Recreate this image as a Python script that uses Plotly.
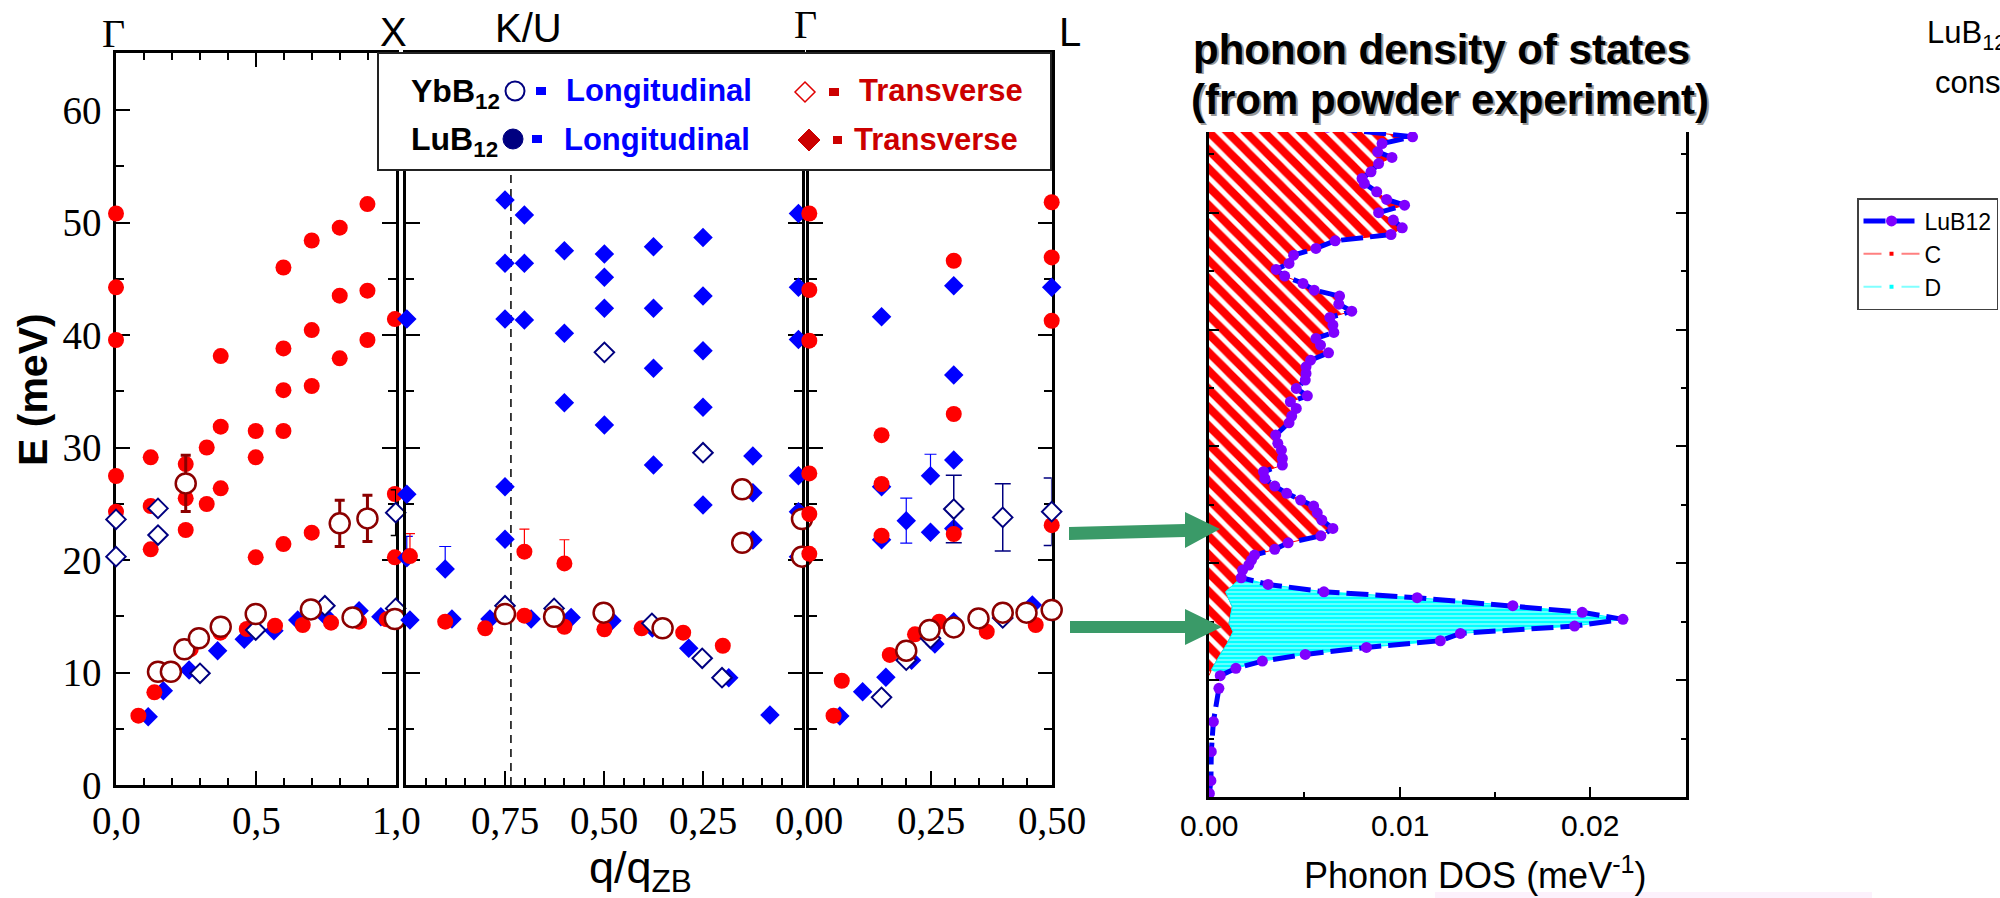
import plotly.graph_objects as go

W, H = 2000, 898

# ================= DISPERSION DATA (q/q_ZB, E in meV) =================
# Panel 1 : Gamma -> X
p1_red_q = [0, 0, 0, 0, 0, 0.374, 0.598, 0.699, 0.799, 0.898, 0.799, 0.898, 0.598, 0.699, 0.799, 0.898,
            0.996, 0.598, 0.699, 0.374, 0.499, 0.598, 0.324, 0.124, 0.249, 0.499, 0.374, 0.124, 0.249,
            0.324, 0.249, 0.124, 0.499, 0.598, 0.699, 0.996, 0.996,
            0.08, 0.137, 0.267, 0.373, 0.467, 0.568, 0.667, 0.768, 0.868, 0.967]
p1_red_E = [50.8, 44.24, 39.56, 27.47, 24.3, 38.13, 46.0, 48.4, 49.54, 51.64, 43.5, 43.94, 38.81, 40.44, 37.93, 39.56,
            41.42, 35.1, 35.47, 31.85, 31.47, 31.47, 30.0, 29.13, 28.53, 29.13, 26.37, 24.8, 25.48,
            24.98, 22.67, 20.95, 20.24, 21.42, 22.43, 25.87, 20.24,
            6.16, 8.24, 12.09, 13.54, 13.87, 14.16, 14.22, 14.43, 14.52, 14.73]
p1_blue_q = [0.115, 0.169, 0.261, 0.363, 0.458, 0.564, 0.649, 0.744, 0.868, 0.946]
p1_blue_E = [6.07, 8.38, 10.22, 11.94, 12.95, 13.72, 14.67, 15.11, 15.5, 14.96]
p1_odia_q = [0, 0, 0.15, 0.15, 0.3, 0.499, 0.746, 0.999, 0.999]
p1_odia_E = [23.61, 20.3, 24.59, 22.22, 9.93, 13.78, 15.94, 24.21, 15.7]
p1_ocirc_q = [0.249, 0.799, 0.898, 0.15, 0.196, 0.244, 0.296, 0.374, 0.499, 0.696, 0.845, 0.996]
p1_ocirc_E = [26.81, 23.26, 23.7, 10.07, 10.07, 12.06, 13.04, 14.07, 15.2, 15.61, 14.9, 14.76]
# error bars panel 1
p1_err_dr_q = [0.249, 0.799, 0.898]
p1_err_dr_E = [26.81, 23.26, 23.7]
p1_err_dr_v = [2.5, 2.05, 2.05]
p1_err_k_q = [0.999]
p1_err_k_E = [24.21]
p1_err_k_v = [2.03]

# Panel 2 : X -> K/U -> Gamma  (reversed axis)
p2_blue_q = [0.998, 0.75, 0.701, 0.75, 0.701, 0.75, 0.701, 0.600, 0.600, 0.600, 0.499, 0.499, 0.499, 0.499,
             0.375, 0.375, 0.375, 0.25, 0.25, 0.25, 0.25, 0.124, 0.375, 0.25, 0.124, 0.124, 0.75, 0.75,
             0.901, 0.998, 0.998,
             0.99, 0.884, 0.788, 0.684, 0.583, 0.48, 0.378, 0.286, 0.185, 0.081,
             0.009, 0.009, 0.009, 0.009, 0.009, 0.009]
p2_blue_E = [41.42, 52.0, 50.67, 46.37, 46.37, 41.42, 41.33, 47.5, 40.15, 33.98, 47.2, 45.13, 42.37, 32.0,
             47.85, 42.37, 37.04, 48.68, 43.47, 38.6, 33.57, 29.24, 28.44, 24.89, 25.98, 21.78, 26.52, 21.84,
             19.2, 25.84, 20.2,
             14.67, 14.76, 14.76, 14.76, 14.9, 14.61, 13.95, 12.15, 9.54, 6.22,
             50.8, 44.24, 39.6, 27.5, 24.3, 20.3]
p2_red_q = [0.99, 0.901, 0.8, 0.701, 0.6, 0.499, 0.405, 0.3, 0.2, 0.701, 0.6]
p2_red_E = [20.35, 14.52, 13.93, 15.05, 14.07, 13.84, 13.93, 13.54, 12.38, 20.74, 19.7]
p2_odia_q = [0.75, 0.626, 0.379, 0.252, 0.202, 0.499, 0.25]
p2_odia_E = [15.94, 15.7, 14.37, 11.26, 9.54, 38.46, 29.54]
p2_ocirc_q = [0.75, 0.626, 0.501, 0.352, 0.151, 0.151, 0.0, 0.0]
p2_ocirc_E = [15.2, 14.96, 15.32, 13.93, 26.28, 21.54, 23.64, 20.3]
p2_err_red_q = [0.99, 0.701, 0.6]
p2_err_red_E = [20.35, 20.74, 19.7]
p2_err_red_up = [2.0, 2.0, 2.1]
p2_err_blue_q = [0.901, 0.998]
p2_err_blue_E = [19.2, 20.2]
p2_err_blue_up = [2.0, 1.9]
q_K = 0.735   # K/U point marker line

# Panel 3 : Gamma -> L
p3_red_q = [0, 0, 0, 0, 0, 0, 0.298, 0.5, 0.5, 0.5, 0.298, 0.149, 0.149, 0.149, 0.298, 0.5,
            0.05, 0.067, 0.166, 0.218, 0.268, 0.366, 0.467]
p3_red_E = [50.8, 44.0, 39.5, 27.7, 24.09, 20.55, 46.6, 51.8, 46.9, 41.27, 32.98, 31.1, 26.76, 22.16, 22.31, 23.1,
            6.16, 9.27, 11.56, 13.39, 14.52, 13.63, 14.22]
p3_blue_q = [0.298, 0.149, 0.298, 0.5, 0.149, 0.149, 0.2, 0.25, 0.25, 0.298, 0.298,
             0.063, 0.11, 0.158, 0.211, 0.259, 0.298, 0.399, 0.46, 0.5]
p3_blue_E = [44.38, 41.63, 36.44, 44.24, 26.52, 21.8, 23.5, 27.5, 22.46, 28.89, 22.8,
             6.13, 8.3, 9.57, 11.1, 12.53, 14.52, 14.81, 16.0, 15.41]
p3_odia_q = [0.149, 0.2, 0.25, 0.399, 0.298, 0.399, 0.5]
p3_odia_E = [7.79, 11.1, 13.04, 14.85, 24.53, 23.79, 24.3]
p3_ocirc_q = [0.2, 0.248, 0.298, 0.349, 0.399, 0.448, 0.5]
p3_ocirc_E = [11.94, 13.78, 14.01, 14.81, 15.32, 15.32, 15.56]
p3_err_blue_q = [0.2, 0.25]
p3_err_blue_E = [23.5, 27.5]
p3_err_blue_up = [2.0, 1.9]
p3_err_blue_dn = [2.0, 0.0]
p3_err_navy_q = [0.298, 0.399, 0.5]
p3_err_navy_E = [24.53, 23.79, 24.3]
p3_err_navy_v = [3.0, 3.0, 3.0]

# tick labels
p1_tick_q = [0, 0.5, 1.0]
p1_tick_txt = ["0,0", "0,5", "1,0"]
p2_tick_q = [0.75, 0.5, 0.25]
p2_tick_txt = ["0,75", "0,50", "0,25"]
p3_tick_q = [0, 0.25, 0.5]
p3_tick_txt = ["0,00", "0,25", "0,50"]
E_tick = [0, 10, 20, 30, 40, 50, 60]
E_tick_txt = ["0", "10", "20", "30", "40", "50", "60"]
dos_tick_v = [0, 0.01, 0.02]
dos_tick_txt = ["0.00", "0.01", "0.02"]

# ================= PHONON DOS DATA =================
dos_E = [0.3, 1.4, 3.88, 6.44, 9.3, 10.38, 11.01, 11.63, 12.2, 12.8, 13.37, 14.0, 14.63, 15.2, 15.8,
         16.37, 17.05, 17.56, 18.19, 18.76, 19.42, 19.85, 20.27, 20.7, 21.19, 21.75, 22.35, 22.98, 23.7,
         24.32, 24.89, 25.41, 25.98, 26.6, 27.26, 27.83, 28.4, 28.97, 29.68, 30.26, 30.97, 32.02, 32.59,
         33.25, 33.82, 34.33, 34.96, 35.67, 36.24, 36.81, 37.38, 38.01, 38.67, 39.24, 39.75, 40.38, 41.03,
         41.57, 42.17, 42.86, 43.37, 43.94, 44.57, 45.14, 45.65, 46.36, 46.94, 47.59, 48.13, 48.7, 49.36,
         50.0, 50.64, 51.13, 51.78, 52.5, 52.92, 53.49, 54.2, 54.72, 55.2, 55.91, 56.49, 57.3]
dos_val = [0.00002, 0.0001, 0.00012, 0.00023, 0.00052, 0.00059, 0.00141, 0.0028, 0.00505, 0.00826,
           0.01214, 0.01319, 0.01918, 0.02172, 0.01958, 0.01594, 0.01092, 0.00603, 0.0031, 0.00169,
           0.00176, 0.00209, 0.00223, 0.00239, 0.00345, 0.00415, 0.00587, 0.0065, 0.00592, 0.00568,
           0.00549, 0.00481, 0.00408, 0.00345, 0.00293, 0.00286, 0.00385, 0.00385, 0.0038, 0.00361,
           0.0035, 0.0042, 0.00434, 0.00458, 0.00427, 0.00516, 0.00458, 0.00505, 0.00509, 0.00509,
           0.00533, 0.00627, 0.00585, 0.00561, 0.00655, 0.0065, 0.00634, 0.00749, 0.00681, 0.00685,
           0.00552, 0.00493, 0.00397, 0.00352, 0.0042, 0.00444, 0.00561, 0.00662, 0.00955, 0.01014,
           0.00967, 0.0089, 0.01026, 0.00932, 0.0088, 0.00815, 0.00803, 0.0085, 0.0089, 0.0096,
           0.00885, 0.00908, 0.01068, 0.0062]
c_bump_E = [10.4, 10.86, 12.0, 13.15, 14.14, 14.86, 16.28, 17.56]
c_bump_val = [0.0, 0.00012, 0.00052, 0.00096, 0.00126, 0.00105, 0.00122, 0.00087]

# ================= helpers =================
def px(x):
    return x / W


def py(y):
    return 1 - y / H


SERIF = "Liberation Serif, Times New Roman, serif"
SANS = "Liberation Sans, Arial, sans-serif"

fig = go.Figure()

STY = {
    "blue": dict(symbol="diamond", size=15, color="#0000ff", line=dict(width=0)),
    "red": dict(symbol="circle", size=16, color="#ff0000", line=dict(width=0)),
    "odia": dict(symbol="diamond", size=15, color="white", line=dict(color="#000080", width=2)),
    "ocirc": dict(symbol="circle", size=20, color="white", line=dict(color="#8b0000", width=2.5)),
}


def add_pts(q, E, kind, ax):
    fig.add_trace(go.Scatter(x=q, y=E, mode="markers", marker=STY[kind], xaxis="x" + ax, yaxis="y" + ax,
                             cliponaxis=False, showlegend=False, hoverinfo="skip"))


def add_err(q, E, up, dn, color, thick, width, ax):
    fig.add_trace(go.Scatter(x=q, y=E, mode="markers", marker=dict(size=1, color="rgba(0,0,0,0)"),
                             error_y=dict(type="data", symmetric=False, array=up, arrayminus=dn,
                                          color=color, thickness=thick, width=width),
                             xaxis="x" + ax, yaxis="y" + ax, cliponaxis=False, showlegend=False,
                             hoverinfo="skip"))


# panel 1
add_pts(p1_blue_q, p1_blue_E, "blue", "")
add_pts(p1_red_q, p1_red_E, "red", "")
add_err(p1_err_k_q, p1_err_k_E, p1_err_k_v, p1_err_k_v, "black", 1.5, 5, "")
add_pts(p1_odia_q, p1_odia_E, "odia", "")
add_err(p1_err_dr_q, p1_err_dr_E, p1_err_dr_v, p1_err_dr_v, "#8b0000", 3, 5, "")
add_pts(p1_ocirc_q, p1_ocirc_E, "ocirc", "")
# panel 2
add_err(p2_err_blue_q, p2_err_blue_E, p2_err_blue_up, [0] * len(p2_err_blue_q), "#0000ff", 1.2, 6, "2")
add_pts(p2_blue_q, p2_blue_E, "blue", "2")
add_err(p2_err_red_q, p2_err_red_E, p2_err_red_up, [0] * len(p2_err_red_q), "#ff0000", 1.2, 5, "2")
add_pts(p2_red_q, p2_red_E, "red", "2")
add_pts(p2_odia_q, p2_odia_E, "odia", "2")
add_pts(p2_ocirc_q, p2_ocirc_E, "ocirc", "2")
# panel 3
add_err(p3_err_blue_q, p3_err_blue_E, p3_err_blue_up, p3_err_blue_dn, "#0000ff", 1.2, 6, "3")
add_pts(p3_blue_q, p3_blue_E, "blue", "3")
add_err(p3_err_navy_q, p3_err_navy_E, p3_err_navy_v, p3_err_navy_v, "#000080", 1.5, 8, "3")
add_pts(p3_red_q, p3_red_E, "red", "3")
add_pts(p3_odia_q, p3_odia_E, "odia", "3")
add_pts(p3_ocirc_q, p3_ocirc_E, "ocirc", "3")

# ---- DOS panel fills ----
top_E = dos_E[-1]
lub_hi = [(e, v) for e, v in zip(dos_E, dos_val) if e >= 18.76]
lub_mid = [(e, v) for e, v in zip(dos_E, dos_val) if 10.38 <= e <= 18.76]
c_x = list(c_bump_val) + [v for e, v in lub_hi] + [0]
c_y = list(c_bump_E) + [e for e, v in lub_hi] + [top_E]
d_x = [v for e, v in lub_mid] + list(reversed(c_bump_val[1:]))
d_y = [e for e, v in lub_mid] + list(reversed(c_bump_E[1:]))

fig.add_trace(go.Scatter(x=c_x, y=c_y, mode="lines", fill="toself", line=dict(color="#ff0000", width=1),
                         fillcolor="white",
                         fillpattern=dict(shape="\\", fgcolor="#ff0000", bgcolor="white", fgopacity=1,
                                          size=13, solidity=0.62),
                         xaxis="x4", yaxis="y4", showlegend=False, hoverinfo="skip"))
fig.add_trace(go.Scatter(x=d_x, y=d_y, mode="lines", fill="toself", line=dict(color="#00ffff", width=1),
                         fillcolor="white",
                         fillpattern=dict(shape="-", fgcolor="#00ffff", bgcolor="white", fgopacity=1,
                                          size=4, solidity=0.8),
                         xaxis="x4", yaxis="y4", showlegend=False, hoverinfo="skip"))
fig.add_trace(go.Scatter(x=dos_val, y=dos_E, mode="lines+markers", name="LuB12",
                         line=dict(color="#0000ff", width=5, dash="22px,7px"),
                         marker=dict(color="#7f00ff", size=11),
                         xaxis="x4", yaxis="y4", showlegend=True, hoverinfo="skip"))
fig.add_trace(go.Scatter(x=[None], y=[None], mode="lines+markers", name="C",
                         line=dict(color="#ff8080", width=2, dash="18px,20px"),
                         marker=dict(symbol="square", size=4, color="#ff0000"),
                         xaxis="x4", yaxis="y4", showlegend=True))
fig.add_trace(go.Scatter(x=[None], y=[None], mode="lines+markers", name="D",
                         line=dict(color="#80ffff", width=2, dash="18px,20px"),
                         marker=dict(symbol="square", size=4, color="#00ffff"),
                         xaxis="x4", yaxis="y4", showlegend=True))

# ================= AXES =================
Y0, Y1 = py(785), py(53)
E_MAX = 65.07
tfont = dict(family=SERIF, size=39, color="black")
common_x = dict(showline=True, linecolor="black", linewidth=2.6, mirror="ticks", ticks="inside",
                ticklen=14, tickwidth=2.4, tickcolor="black", showgrid=False, zeroline=False,
                showticklabels=False, tickmode="array", layer="below traces")
common_y = dict(showline=True, linecolor="black", linewidth=2.6, mirror="ticks", ticks="inside",
                ticklen=14, tickwidth=2.4, tickcolor="black", showgrid=False, zeroline=False,
                range=[0, E_MAX], tickmode="array", tickvals=E_tick,
                minor=dict(ticks="inside", ticklen=8, tickwidth=2.4, tickcolor="black",
                           tickmode="array", tickvals=[5, 15, 25, 35, 45, 55], showgrid=False),
                layer="below traces", domain=[Y0, Y1])

fig.update_layout(
    width=W, height=H, margin=dict(l=0, r=0, t=0, b=0, autoexpand=False),
    paper_bgcolor="white", plot_bgcolor="white",
    xaxis=dict(common_x, domain=[px(116), px(396)], range=[0, 1], anchor="y",
               tickvals=[0, 0.5, 1.0],
               minor=dict(ticks="inside", ticklen=7, tickwidth=2.4, tickcolor="black", tickmode="array",
                          tickvals=[0.1, 0.2, 0.3, 0.4, 0.6, 0.7, 0.8, 0.9])),
    yaxis=dict(common_y, anchor="x", tickfont=tfont, ticklabelstandoff=4, ticktext=E_tick_txt),
    xaxis2=dict(common_x, domain=[px(406), px(802)], range=[1, 0], anchor="y2",
                tickvals=[1.0, 0.75, 0.5, 0.25, 0.0],
                minor=dict(ticks="inside", ticklen=7, tickwidth=2.4, tickcolor="black", tickmode="array",
                           tickvals=[0.95, 0.9, 0.85, 0.8, 0.7, 0.65, 0.6, 0.55, 0.45, 0.4, 0.35, 0.3,
                                     0.2, 0.15, 0.1, 0.05])),
    yaxis2=dict(common_y, anchor="x2", showticklabels=False),
    xaxis3=dict(common_x, domain=[px(809.3), px(1051.7)], range=[0, 0.5], anchor="y3",
                tickvals=[0, 0.25, 0.5],
                minor=dict(ticks="inside", ticklen=7, tickwidth=2.4, tickcolor="black", tickmode="array",
                           tickvals=[0.05, 0.1, 0.15, 0.2, 0.3, 0.35, 0.4, 0.45])),
    yaxis3=dict(common_y, anchor="x3", showticklabels=False),
    xaxis4=dict(domain=[px(1209), px(1685.5)], range=[0, 0.025], anchor="y4", showline=True,
                linecolor="black", linewidth=3, mirror=False, ticks="inside", ticklen=10, tickwidth=2.4,
                tickcolor="black", showgrid=False, zeroline=False, tickmode="array",
                tickvals=dos_tick_v, showticklabels=False,
                minor=dict(ticks="inside", ticklen=5, tickwidth=2.4, tickcolor="black", tickmode="array",
                           tickvals=[0.005, 0.015])),
    yaxis4=dict(domain=[py(797), py(132)], range=[0, 56.9], anchor="x4", showline=True, linecolor="black",
                linewidth=3, mirror="ticks", ticks="inside", ticklen=10, tickwidth=2.4, tickcolor="black",
                showgrid=False, zeroline=False, showticklabels=False, tickmode="array",
                tickvals=[0, 10, 20, 30, 40, 50],
                minor=dict(ticks="inside", ticklen=5, tickwidth=2.4, tickcolor="black", tickmode="array",
                           tickvals=[5, 15, 25, 35, 45, 55])),
    legend=dict(x=px(1857), y=py(198), xanchor="left", yanchor="top", bgcolor="white",
                bordercolor="#404040", borderwidth=1.5, font=dict(family=SANS, size=23, color="black"),
                itemwidth=56, tracegroupgap=0),
)

# ================= SHAPES =================
shapes = []
# K/U dashed line
shapes.append(dict(type="line", xref="x2", yref="y2 domain", x0=q_K, x1=q_K, y0=0, y1=1,
                   line=dict(color="black", width=1.5, dash="8px,6px"), layer="below"))
# legend box (covers panel tops)
shapes.append(dict(type="rect", xref="paper", yref="paper", x0=px(378), x1=px(1051), y0=py(170), y1=py(53),
                   fillcolor="white", line=dict(color="#222222", width=2)))


def circ(cx, cy, r, fill, line_c, lw):
    return dict(type="circle", xref="paper", yref="paper", x0=px(cx - r), x1=px(cx + r), y0=py(cy + r),
                y1=py(cy - r), fillcolor=fill, line=dict(color=line_c, width=lw))


def diam(cx, cy, r, fill, line_c, lw):
    path = "M {},{} L {},{} L {},{} L {},{} Z".format(px(cx), py(cy - r), px(cx + r), py(cy), px(cx),
                                                    py(cy + r), px(cx - r), py(cy))
    return dict(type="path", xref="paper", yref="paper", path=path, fillcolor=fill,
                line=dict(color=line_c, width=lw))


def rect(x0, x1, y0, y1, c):
    return dict(type="rect", xref="paper", yref="paper", x0=px(x0), x1=px(x1), y0=py(y1), y1=py(y0),
                fillcolor=c, line=dict(width=0))


shapes.append(circ(515, 91, 9.5, "white", "#000080", 2))
shapes.append(circ(513, 139, 10, "#000080", "#000080", 1))
shapes.append(diam(805, 92, 10, "white", "#e00000", 1.5))
shapes.append(diam(809, 140, 11, "#cc0000", "#cc0000", 1))
shapes.append(rect(536, 546, 87, 95, "#0000ff"))
shapes.append(rect(532, 542, 135, 143, "#0000ff"))
shapes.append(rect(829, 839, 88, 96, "#cc0000"))
shapes.append(rect(833, 842, 136, 144, "#cc0000"))


# green arrows
def poly(pts, c):
    path = "M " + " L ".join("{},{}".format(px(x), py(y)) for x, y in pts) + " Z"
    return dict(type="path", xref="paper", yref="paper", path=path, fillcolor=c, line=dict(width=0))


GREEN = "#3a9a68"
shapes.append(poly([(1069, 527), (1185, 524), (1185, 512), (1220, 529), (1185, 548), (1185, 537), (1069, 540)], GREEN))
shapes.append(poly([(1070, 621), (1185, 621), (1185, 609), (1222, 627), (1185, 645), (1185, 633), (1070, 633)], GREEN))
# faint strip bottom
shapes.append(rect(1435, 1872, 892, 898, "#fcf1fc"))
fig.update_layout(shapes=shapes)

# ================= ANNOTATIONS =================
ann = []


def txt(x, y, s, size, fam=SANS, color="black", xa="center", ya="middle", bold=False, angle=0, xref="paper"):
    if bold:
        s = "<b>" + s + "</b>"
    ann.append(dict(x=px(x) if xref == "paper" else x, y=py(y), xref=xref, yref="paper", text=s,
                    showarrow=False, xanchor=xa, yanchor=ya, textangle=angle,
                    font=dict(family=fam, size=size, color=color)))


# x tick labels placed on the axes' own data coordinates
for q, s in zip(p1_tick_q, p1_tick_txt):
    txt(q, 820, s, 39, SERIF, xref="x")
for q, s in zip(p2_tick_q, p2_tick_txt):
    txt(q, 820, s, 39, SERIF, xref="x2")
for q, s in zip(p3_tick_q, p3_tick_txt):
    txt(q, 820, s, 39, SERIF, xref="x3")
for v, s in zip(dos_tick_v, dos_tick_txt):
    txt(v, 825, s, 30, SANS, xref="x4")

txt(113, 33, "Γ", 40, SERIF)
txt(393, 32, "X", 40)
txt(528, 28, "K/U", 40)
txt(805, 25, "Γ", 40, SERIF)
txt(1070, 32, "L", 40)
txt(33, 390, "E (meV)", 41, bold=True, angle=-90)
txt(640, 870, "q/q<sub>ZB</sub>", 45)
txt(1475, 873, "Phonon DOS (meV<sup>-1</sup>)", 36)
# legend box text
txt(409, 93, "YbB<sub>12</sub>", 32, xa="left", bold=True)
txt(409, 141, "LuB<sub>12</sub>", 32, xa="left", bold=True)
txt(564, 91, "Longitudinal", 31, color="#0000ff", xa="left", bold=True)
txt(562, 139, "Longitudinal", 31, color="#0000ff", xa="left", bold=True)
txt(857, 91, "Transverse", 31, color="#cc0000", xa="left", bold=True)
txt(852, 139, "Transverse", 31, color="#cc0000", xa="left", bold=True)
# DOS title with shadow
for dx, col in ((2, "#9a9a9a"), (0, "black")):
    txt(1191 + dx, 49 + dx, "phonon density of states", 42, color=col, xa="left", bold=True)
    txt(1189 + dx, 99 + dx, "(from powder experiment)", 42, color=col, xa="left", bold=True)
# clipped texts at right edge
txt(1925, 35, "LuB<sub>12</sub> force", 31, xa="left")
txt(1933, 82, "constants", 31, xa="left")
fig.update_layout(annotations=ann)

fig.write_html("out.html")
